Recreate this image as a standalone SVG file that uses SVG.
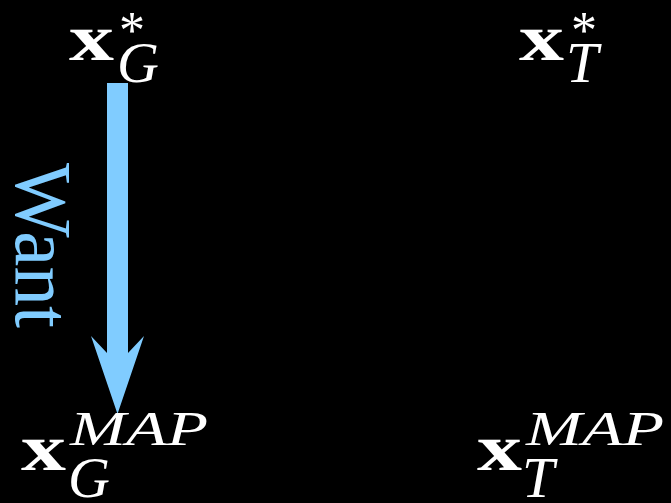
<svg xmlns="http://www.w3.org/2000/svg" width="671" height="503" viewBox="0 0 671 503">
<style>
text{font-family:'Liberation Serif','Times New Roman',Tinos,serif}
.bx{font-weight:bold;fill:#fff}
.it{font-style:italic;fill:#fff}
.rm{fill:#fff}
.lbl{fill:#80CCFF}
</style>
<rect width="671" height="503" fill="#000"/>
<g id="connectors">
<path id="want-arrow" d="M107,83 H128 V353 L144,336 L117.5,414 L91,336 L107,353 Z" fill="#80CCFF"/>
<text class="lbl" font-size="80" transform="translate(16,163) rotate(90)" textLength="165" lengthAdjust="spacingAndGlyphs">Want</text>
</g>
<g id="node-xG-star">
<text class="bx" x="69" y="60" font-size="66" textLength="45" lengthAdjust="spacingAndGlyphs">x</text>
<text class="rm" x="119" y="48" font-size="52">*</text>
<text class="it" x="117" y="82" font-size="58">G</text>
</g>
<g id="node-xT-star">
<text class="bx" x="519" y="60" font-size="66" textLength="45" lengthAdjust="spacingAndGlyphs">x</text>
<text class="rm" x="571" y="48" font-size="52">*</text>
<text class="it" x="566" y="82" font-size="58">T</text>
</g>
<g id="node-xG-map">
<text class="bx" x="21" y="470" font-size="66" textLength="45" lengthAdjust="spacingAndGlyphs">x</text>
<text class="it" x="70" y="445" font-size="48" textLength="138" lengthAdjust="spacingAndGlyphs">MAP</text>
<text class="it" x="68" y="497" font-size="58">G</text>
</g>
<g id="node-xT-map">
<text class="bx" x="477" y="470" font-size="66" textLength="45" lengthAdjust="spacingAndGlyphs">x</text>
<text class="it" x="526" y="445" font-size="48" textLength="138" lengthAdjust="spacingAndGlyphs">MAP</text>
<text class="it" x="522" y="497" font-size="58">T</text>
</g>
</svg>
